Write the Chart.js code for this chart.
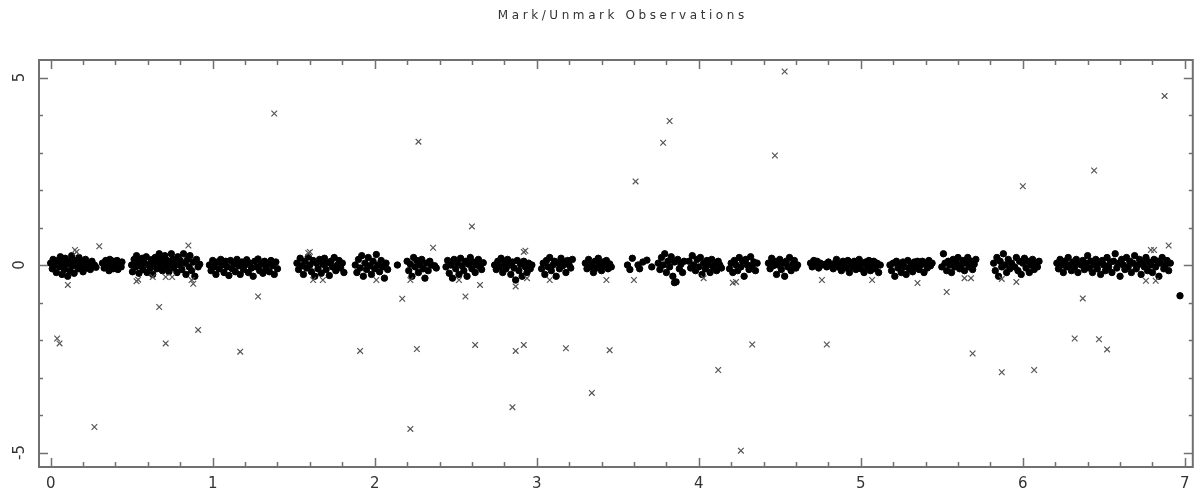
<!DOCTYPE html>
<html><head><meta charset="utf-8">
<script src="https://cdn.jsdelivr.net/npm/chart.js@4/dist/chart.umd.min.js"></script>
<style>html,body{margin:0;padding:0;background:#fff;}canvas{display:block;}</style>
</head><body>
<canvas id="c" width="1198" height="493"></canvas>
<script>
const chartTitle = "Mark/Unmark Observations";
const xTickLabels = ["0","1","2","3","4","5","6","7"];
const yTickLabels = ["-5","0","5"];

// marked observations (filled dots)
const markedPoints = [
[0.00,0.05],[0.01,-0.1],[0.015,0.15],[0.03,0.0],[0.035,-0.2],[0.045,0.12],[0.055,-0.05],[0.06,0.22],[0.07,-0.25],[0.075,0.05],[0.085,-0.12],[0.09,0.18],[0.1,0.02],[0.105,-0.3],[0.115,0.1],[0.12,-0.15],[0.13,0.25],[0.135,-0.02],[0.145,-0.22],[0.15,0.12],[0.16,0.0],[0.17,-0.1],[0.175,0.2],[0.185,-0.05],[0.19,0.08],[0.2,-0.18],[0.21,0.03],[0.215,0.15],[0.225,-0.08],[0.235,0.05],[0.245,-0.12],[0.255,0.1],[0.26,-0.02],[0.27,0.0],[0.28,-0.06],
[0.32,0.05],[0.33,-0.08],[0.34,0.12],[0.35,0.0],[0.36,-0.15],[0.365,0.15],[0.375,0.03],[0.385,-0.1],[0.39,0.1],[0.4,-0.02],[0.41,0.12],[0.415,-0.12],[0.425,0.02],[0.435,-0.05],[0.44,0.08],
[0.5,0.0],[0.505,-0.18],[0.515,0.15],[0.525,-0.05],[0.53,0.25],[0.54,0.08],[0.545,-0.22],[0.555,-0.02],[0.565,0.18],[0.57,-0.12],[0.58,0.05],[0.59,0.22],[0.595,-0.2],[0.605,0.0],[0.615,-0.08],[0.62,0.14],[0.63,-0.25],[0.64,0.04],[0.645,0.2],[0.655,-0.1],[0.665,0.1],[0.67,0.3],[0.675,-0.03],[0.685,0.18],[0.69,-0.15],[0.7,0.06],[0.705,0.25],[0.715,-0.05],[0.72,0.12],[0.73,-0.18],[0.74,0.02],[0.745,0.3],[0.755,0.15],[0.76,-0.08],[0.77,0.05],[0.78,-0.2],[0.785,0.22],[0.795,0.0],[0.8,0.12],[0.81,-0.12],[0.82,0.3],[0.83,0.05],[0.835,-0.25],[0.845,0.15],[0.855,-0.05],[0.86,0.25],[0.87,-0.15],[0.88,0.08],[0.89,-0.3],[0.9,0.15],[0.91,-0.05],[0.92,0.02],
[0.98,0.0],[0.99,-0.15],[1.0,0.12],[1.01,-0.05],[1.02,-0.25],[1.03,0.08],[1.04,-0.1],[1.05,0.15],[1.06,0.0],[1.07,-0.2],[1.08,0.1],[1.09,-0.05],[1.1,-0.28],[1.11,0.12],[1.12,-0.1],[1.13,0.03],[1.14,-0.18],[1.15,0.15],[1.16,-0.02],[1.17,-0.25],[1.18,0.08],[1.19,-0.12],[1.2,0.0],[1.21,0.14],[1.22,-0.2],[1.23,0.05],[1.24,-0.08],[1.25,-0.3],[1.26,0.1],[1.27,-0.05],[1.28,0.16],[1.29,-0.15],[1.3,0.02],[1.31,-0.22],[1.32,0.1],[1.33,-0.08],[1.34,0.05],[1.35,-0.18],[1.36,0.12],[1.37,-0.02],[1.38,-0.25],[1.39,0.08],[1.4,-0.1],
[1.52,0.05],[1.53,-0.12],[1.54,0.18],[1.55,-0.02],[1.56,-0.25],[1.57,0.1],[1.58,-0.08],[1.59,0.22],[1.6,0.0],[1.61,-0.18],[1.62,0.12],[1.63,-0.3],[1.64,0.05],[1.65,-0.1],[1.66,0.15],[1.67,-0.22],[1.68,0.02],[1.69,0.18],[1.7,-0.12],[1.71,0.06],[1.72,-0.28],[1.73,0.1],[1.74,-0.05],[1.75,0.2],[1.76,-0.15],[1.77,0.0],[1.78,0.12],[1.79,-0.08],[1.8,0.05],[1.81,-0.2],
[1.88,0.0],[1.89,-0.2],[1.9,0.15],[1.91,-0.08],[1.92,0.25],[1.93,-0.3],[1.94,0.05],[1.95,-0.12],[1.96,0.2],[1.97,-0.02],[1.98,-0.25],[1.99,0.1],[2.0,-0.1],[2.01,0.28],[2.02,0.0],[2.03,-0.18],[2.04,0.12],[2.05,-0.05],[2.06,-0.35],[2.07,0.05],[2.08,-0.12],
[2.14,0.0],
[2.2,0.1],[2.21,-0.15],[2.22,0.02],[2.23,-0.3],[2.24,0.2],[2.25,-0.05],[2.26,0.12],[2.27,-0.2],[2.28,0.0],[2.29,0.15],[2.3,-0.1],[2.31,-0.35],[2.32,0.05],[2.33,-0.15],[2.34,0.1],[2.35,0.0],[2.37,-0.02],[2.38,-0.08],
[2.44,-0.05],[2.45,0.12],[2.46,-0.22],[2.47,0.0],[2.48,-0.35],[2.49,0.15],[2.5,-0.1],[2.51,0.05],[2.52,-0.25],[2.53,0.18],[2.54,-0.02],[2.55,-0.15],[2.56,0.1],[2.57,-0.3],[2.58,0.02],[2.59,0.2],[2.6,-0.1],[2.61,0.08],[2.62,-0.2],[2.63,0.0],[2.64,0.15],[2.65,-0.05],[2.66,-0.12],[2.67,0.06],
[2.74,0.0],[2.75,-0.12],[2.76,0.1],[2.77,-0.05],[2.78,0.18],[2.79,-0.2],[2.8,0.05],[2.81,-0.1],[2.82,0.15],[2.83,0.0],[2.84,-0.25],[2.85,0.08],[2.86,-0.08],[2.87,-0.4],[2.88,0.12],[2.89,-0.15],[2.9,0.02],[2.91,-0.3],[2.92,0.1],[2.93,-0.05],[2.94,-0.2],[2.95,0.05],[2.96,-0.1],[2.97,0.0],
[3.03,-0.1],[3.04,0.05],[3.05,-0.25],[3.06,0.12],[3.07,-0.05],[3.08,0.2],[3.09,-0.15],[3.1,0.0],[3.11,0.1],[3.12,-0.3],[3.13,0.05],[3.14,-0.1],[3.15,0.18],[3.16,-0.02],[3.17,0.08],[3.18,-0.2],[3.19,0.12],[3.2,0.0],[3.21,-0.08],[3.22,0.15],
[3.3,0.05],[3.31,-0.1],[3.32,0.15],[3.33,-0.05],[3.34,0.0],[3.35,-0.2],[3.36,0.1],[3.37,-0.08],[3.38,0.18],[3.39,0.02],[3.4,-0.15],[3.41,0.08],[3.42,-0.02],[3.43,0.12],[3.44,-0.1],[3.45,0.03],[3.46,-0.05],
[3.56,0.0],[3.575,-0.12],[3.59,0.18],[3.625,0.0],[3.635,-0.1],[3.655,0.08],[3.68,0.13],[3.71,-0.05],
[3.75,0.05],[3.76,-0.12],[3.77,0.2],[3.78,0.0],[3.79,0.3],[3.8,-0.2],[3.81,0.1],[3.82,-0.05],[3.83,0.22],[3.84,-0.3],[3.85,0.08],[3.86,-0.45],[3.87,0.15],[3.88,-0.1],[3.89,0.02],[3.9,-0.2],[3.91,0.1],
[3.94,0.1],[3.95,-0.08],[3.96,0.25],[3.97,0.0],[3.98,-0.15],[3.99,0.15],[4.0,-0.05],[4.01,0.2],[4.02,-0.25],[4.03,0.05],[4.04,-0.1],[4.05,0.12],[4.06,0.0],[4.07,-0.2],[4.08,0.15],[4.09,-0.05],[4.1,0.05],[4.11,-0.15],[4.12,0.1],[4.13,0.0],[4.14,-0.08],
[4.19,-0.1],[4.2,0.05],[4.21,-0.2],[4.22,0.12],[4.23,0.0],[4.24,-0.15],[4.25,0.2],[4.26,-0.05],[4.27,0.1],[4.28,-0.3],[4.29,0.15],[4.3,0.0],[4.31,-0.12],[4.32,0.22],[4.33,-0.02],[4.34,0.08],[4.35,-0.15],[4.36,0.05],
[4.43,0.05],[4.44,-0.1],[4.45,0.18],[4.46,-0.02],[4.47,0.1],[4.48,-0.25],[4.49,0.0],[4.5,0.15],[4.51,-0.12],[4.52,0.05],[4.53,-0.3],[4.54,0.1],[4.55,-0.05],[4.56,0.2],[4.57,-0.15],[4.58,0.02],[4.59,0.12],[4.6,-0.08],[4.61,0.0],
[4.69,0.05],[4.7,-0.05],[4.71,0.12],[4.72,0.0],[4.73,0.1],[4.74,-0.08],[4.75,0.05],[4.76,0.0],[4.78,0.02],[4.79,-0.05],[4.8,0.08],[4.82,0.0],[4.83,-0.1],[4.84,0.05],[4.85,0.15],[4.86,-0.05],[4.87,0.02],[4.88,-0.15],[4.89,0.1],[4.9,0.0],[4.91,-0.08],[4.92,0.12],[4.93,-0.2],[4.94,0.05],[4.95,-0.05],[4.96,0.1],[4.97,-0.12],[4.98,0.0],[4.99,0.15],[5.0,-0.1],[5.01,0.05],[5.02,-0.2],[5.03,0.08],[5.04,-0.05],[5.05,0.12],[5.06,-0.15],[5.07,0.0],[5.08,0.1],[5.09,-0.1],[5.1,0.05],[5.11,-0.2],[5.12,0.0],
[5.18,0.0],[5.19,-0.15],[5.2,0.05],[5.21,-0.3],[5.22,0.1],[5.23,-0.08],[5.24,0.0],[5.25,-0.2],[5.26,0.08],[5.27,-0.05],[5.28,-0.25],[5.29,0.12],[5.3,-0.1],[5.31,0.02],[5.32,-0.18],[5.33,0.08],[5.34,-0.05],[5.35,0.1],[5.36,-0.12],[5.37,0.0],[5.38,0.1],[5.39,-0.2],[5.4,0.05],[5.41,-0.08],[5.42,0.12],[5.43,-0.02],[5.44,0.05],
[5.5,-0.05],[5.51,0.3],[5.52,0.05],[5.53,-0.15],[5.54,0.1],[5.55,0.0],[5.56,-0.2],[5.57,0.15],[5.58,-0.05],[5.59,0.05],[5.6,0.2],[5.61,-0.1],[5.62,0.0],[5.63,0.12],[5.64,-0.15],[5.65,0.05],[5.66,0.2],[5.67,-0.05],[5.68,0.1],[5.69,-0.12],[5.7,0.02],[5.71,0.15],
[5.82,0.05],[5.83,-0.15],[5.84,0.2],[5.85,-0.3],[5.86,0.1],[5.87,-0.05],[5.88,0.3],[5.89,0.0],[5.9,-0.2],[5.91,0.15],[5.92,-0.1],[5.93,0.05],[5.95,-0.05],[5.96,0.2],[5.97,-0.15],[5.98,0.1],[5.99,-0.25],[6.0,0.05],[6.01,0.18],[6.02,-0.08],[6.03,0.1],[6.04,-0.2],[6.05,0.0],[6.06,0.15],[6.07,-0.12],[6.08,0.05],[6.09,-0.05],[6.1,0.1],
[6.21,0.05],[6.22,-0.1],[6.23,0.15],[6.24,0.0],[6.25,-0.2],[6.26,0.1],[6.27,-0.05],[6.28,0.2],[6.29,0.0],[6.3,-0.15],[6.31,0.08],[6.32,-0.05],[6.33,0.15],[6.34,-0.2],[6.35,0.05],[6.36,0.0],[6.37,0.12],[6.38,-0.12],[6.39,0.05],[6.4,0.25],[6.41,-0.08],[6.42,0.1],[6.43,-0.2],[6.44,0.0],[6.45,0.15],[6.46,-0.1],[6.47,0.05],[6.48,-0.25],[6.49,0.12],[6.5,0.0],[6.51,-0.15],[6.52,0.2],[6.53,-0.05],[6.54,0.08],[6.55,-0.2],[6.56,0.1],[6.57,0.3],[6.58,-0.08],[6.59,0.05],[6.6,-0.3],[6.61,0.15],[6.62,0.0],[6.63,-0.12],[6.64,0.2],[6.65,-0.05],[6.66,0.1],[6.67,-0.2],[6.68,0.05],[6.69,0.25],[6.7,-0.1],[6.71,0.0],[6.72,0.15],[6.73,-0.25],[6.74,0.05],[6.75,-0.05],[6.76,0.2],[6.77,-0.15],[6.78,0.08],[6.79,0.0],[6.8,-0.2],[6.81,0.15],[6.82,-0.05],[6.83,0.1],[6.84,-0.3],[6.85,0.05],[6.86,0.2],[6.87,-0.1],[6.88,0.0],[6.89,0.12],[6.9,-0.15],[6.91,0.05],
[3.85,-0.47],[6.97,-0.82]
];

// unmarked observations (crosses)
const unmarkedPoints = [
[0.04,-1.96],[0.055,-2.09],[0.27,-4.32],[0.106,-0.53],[0.15,0.4],[0.30,0.5],[0.54,-0.39],[0.67,-1.12],[0.71,-2.09],[0.85,0.52],[0.88,-0.5],[0.91,-1.73],[1.17,-2.31],[1.28,-0.84],[1.38,4.04],[1.6,0.35],[1.91,-2.29],[2.17,-0.9],[2.22,-4.37],[2.26,-2.24],[2.27,3.29],[2.36,0.46],[2.56,-0.84],[2.60,1.03],[2.62,-2.13],[2.65,-0.53],[2.85,-3.79],[2.87,-2.29],[2.87,-0.57],[2.92,-2.13],[2.93,0.38],[3.18,-2.22],[3.34,-3.41],[3.45,-2.27],[3.61,2.23],[3.78,3.26],[3.82,3.84],[4.12,-2.80],[4.23,-0.45],[4.26,-4.95],[4.33,-2.12],[4.47,2.92],[4.53,5.16],[4.79,-2.12],[5.35,-0.48],[5.53,-0.72],[5.69,-2.36],[5.87,-2.86],[6.0,2.10],[6.07,-2.80],[6.32,-1.96],[6.37,-0.89],[6.44,2.52],[6.47,-1.98],[6.52,-2.25],[6.76,-0.42],[6.82,-0.42],[6.81,0.4],[6.875,4.51],[6.90,0.52],
[0.16,0.35],[0.53,-0.43],[0.63,-0.32],[0.71,-0.32],[0.75,-0.32],[0.87,-0.4],[1.59,0.32],[1.62,-0.4],[1.68,-0.4],[2.01,-0.4],[2.22,-0.4],[2.52,-0.4],[2.92,0.35],[2.94,-0.35],[3.08,-0.4],[3.43,-0.4],[3.6,-0.4],[4.03,-0.35],[4.21,-0.47],[4.76,-0.4],[5.07,-0.4],[5.64,-0.35],[5.68,-0.35],[5.87,-0.37],[5.96,-0.45],[6.79,0.4]
];

const frameColor = "#707070";
const framePlugin = {
  id: "frame",
  afterDraw(chart) {
    const ctx = chart.ctx, a = chart.chartArea;
    const xs = chart.scales.x, ys = chart.scales.y;
    ctx.save();
    ctx.strokeStyle = frameColor;
    ctx.lineWidth = 2;
    ctx.strokeRect(a.left, a.top, a.right - a.left, a.bottom - a.top);
    ctx.lineWidth = 1.5;
    ctx.beginPath();
    for (let i = 0; i <= 35; i++) {
      const v = i * 0.2;
      const px = Math.round(xs.getPixelForValue(v)) + 0.5;
      const len = (i % 5 === 0) ? 9 : 5;
      ctx.moveTo(px, a.bottom); ctx.lineTo(px, a.bottom - len);
      ctx.moveTo(px, a.top); ctx.lineTo(px, a.top + len);
    }
    for (let v = -5; v <= 5; v++) {
      const py = Math.round(ys.getPixelForValue(v)) + 0.5;
      const len = (v % 5 === 0) ? 9 : 4;
      ctx.moveTo(a.left, py); ctx.lineTo(a.left + len, py);
      ctx.moveTo(a.right, py); ctx.lineTo(a.right - len, py);
    }
    ctx.stroke();
    ctx.fillStyle = "#333";
    ctx.font = "15px 'DejaVu Sans'";
    ctx.textAlign = "center";
    ctx.textBaseline = "middle";
    xTickLabels.forEach(l => {
      ctx.fillText(l, xs.getPixelForValue(parseFloat(l)), 484);
    });
    yTickLabels.forEach(l => {
      const py = ys.getPixelForValue(parseFloat(l));
      ctx.save();
      ctx.translate(20, py);
      ctx.rotate(-Math.PI / 2);
      ctx.fillText(l, 0, 0);
      ctx.restore();
    });
    ctx.font = "12px 'DejaVu Sans'";
    ctx.fillStyle = "#333";
    const w = ctx.measureText(chartTitle).width;
    const target = 250;
    const sp = Math.max(0, (target - w) / chartTitle.length);
    ctx.letterSpacing = sp.toFixed(2) + "px";
    ctx.fillText(chartTitle, 621 + sp / 2, 16);
    ctx.letterSpacing = "0px";
    ctx.restore();
  }
};

new Chart(document.getElementById("c"), {
  type: "scatter",
  data: {
    datasets: [
      {
        label: "Unmarked",
        data: unmarkedPoints.map(p => ({x: p[0], y: p[1]})),
        pointStyle: "crossRot",
        pointRadius: 4,
        borderColor: "#555",
        borderWidth: 1.2,
        backgroundColor: "#555"
      },
      {
        label: "Marked",
        data: markedPoints.map(p => ({x: p[0], y: p[1]})),
        pointStyle: "circle",
        pointRadius: 3.2,
        borderColor: "#000",
        borderWidth: 1,
        backgroundColor: "#000"
      }
    ]
  },
  options: {
    responsive: false,
    animation: false,
    layout: { padding: { left: 39, right: 1, top: 60, bottom: 26 } },
    scales: {
      x: { type: "linear", min: -0.0719, max: 7.049, display: false },
      y: { type: "linear", min: -5.386, max: 5.467, display: false }
    },
    plugins: { legend: { display: false }, tooltip: { enabled: false }, title: { display: false } },
    elements: { point: { hoverRadius: 0 } }
  },
  plugins: [framePlugin]
});
</script>
</body></html>
